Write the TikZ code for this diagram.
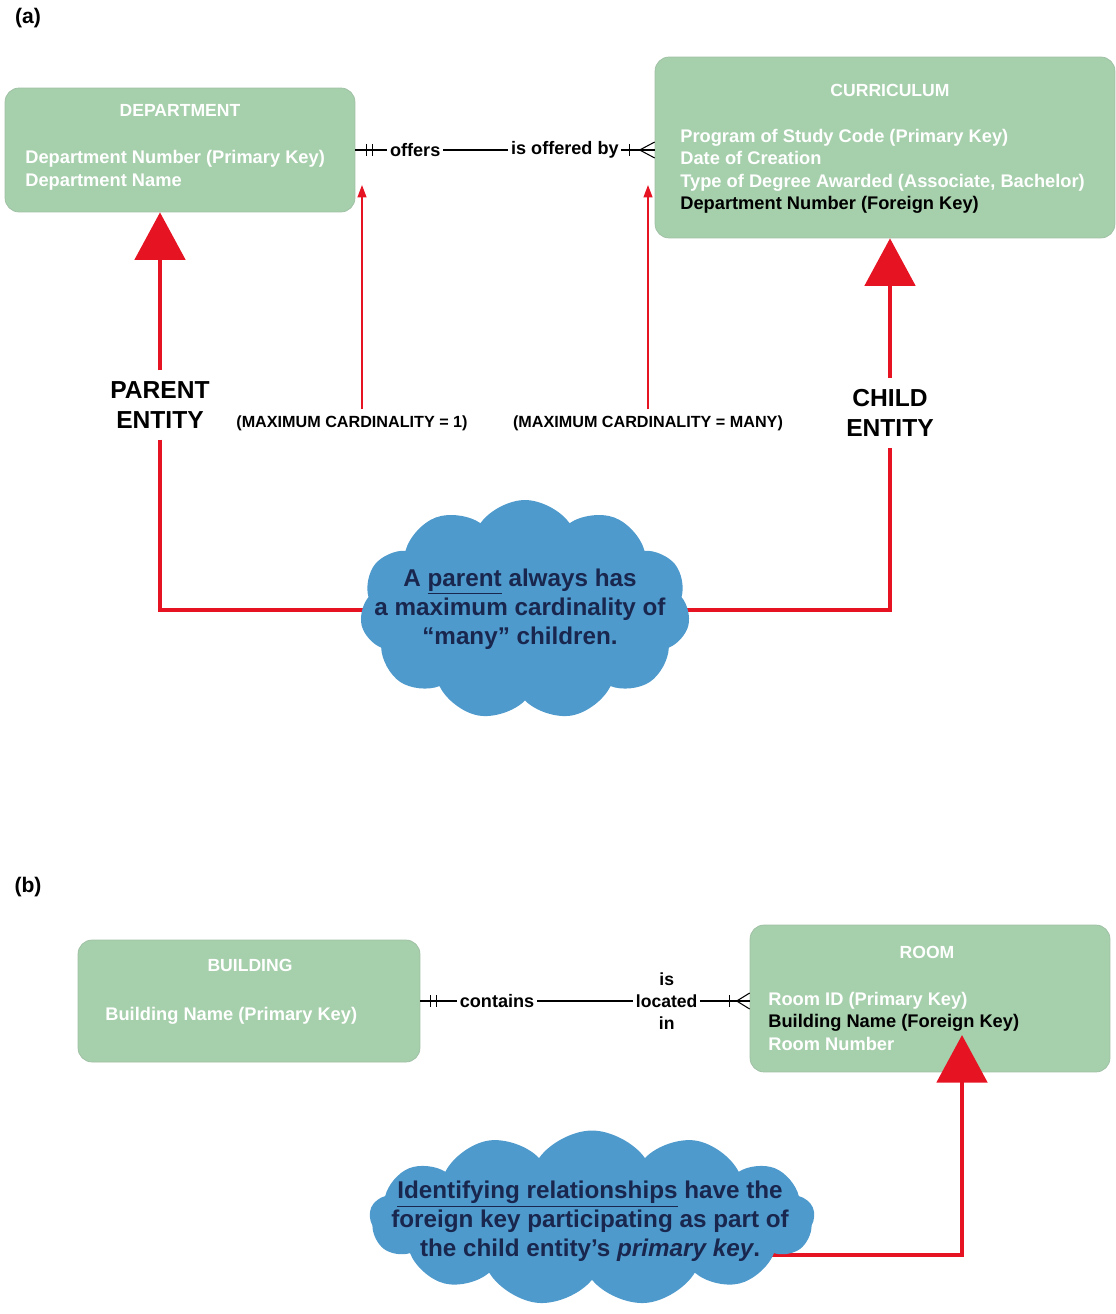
\documentclass[tikz,border=0pt]{standalone}
\usepackage{fontspec}
\setmainfont{Liberation Sans}
\usetikzlibrary{arrows.meta, shapes.symbols, backgrounds}
\definecolor{boxgreen}{RGB}{166,207,172}
\definecolor{erred}{RGB}{230,20,35}
\definecolor{cloudblue}{RGB}{78,154,204}
\definecolor{cloudtext}{RGB}{25,38,78}

\begin{document}
\begin{tikzpicture}[x=0.02cm, y=-0.02cm,
  entity/.style={draw=boxgreen!80!gray, fill=boxgreen, rounded corners=8pt, inner sep=0pt},
  title/.style={text=white, font=\bfseries\fontsize{10}{11}\selectfont},
  attrs/.style={text=white, align=left, anchor=north west, inner sep=0pt, font=\bfseries\fontsize{10.4}{12.8}\selectfont},
  relline/.style={line width=0.6pt},
  rel/.style={fill=white, inner sep=1.5pt, font=\bfseries\fontsize{10.3}{12.5}\selectfont},
  role/.style={align=center, inner sep=6pt, font=\bfseries\fontsize{14}{17.5}\selectfont},
  card/.style={font=\bfseries\fontsize{9.2}{10}\selectfont},
  note/.style={cloud, cloud puffs=11, cloud puff arc=110, cloud ignores aspect, fill=cloudblue, inner sep=0pt},
  notetext/.style={text=cloudtext, align=center, font=\bfseries\fontsize{13.8}{16.5}\selectfont},
  bigarrow/.style={erred, line width=2.8pt, -{Triangle[width=1cm, length=0.95cm]}},
  redline/.style={erred, line width=2.8pt},
  thinarrow/.style={erred, line width=0.9pt, -{Triangle[width=5pt, length=7pt]}}]
  \useasboundingbox (0,0) rectangle (1115,1314);

  % (a) parent and child
  \node[font=\bfseries\fontsize{12}{14}\selectfont] (lbla) at (28,18) {(a)};
  \node[entity, minimum width=7cm, minimum height=2.48cm] (dept) at (180,150) {};
  \node[title] (deptname) at (180,110) {DEPARTMENT};
  \node[attrs] (deptattr) at (25,150) {Department Number (Primary Key)\\Department Name};

  \node[entity, minimum width=9.2cm, minimum height=3.62cm] (curr) at (885,147.5) {};
  \node[title] (currname) at (890,90) {CURRICULUM};
  \node[attrs] (currattr) at (680,128.5) {Program of Study Code (Primary Key)\\Date of Creation\\Type of Degree Awarded (Associate, Bachelor)\\{\color{black}Department Number (Foreign Key)}};

  \coordinate (manyend) at (dept.east -| curr.west);
  \draw[relline] (dept.east) -- node[rel, pos=0.2] (offers) {offers} node[rel, pos=0.7] (offeredby) {is offered by} (manyend);
  \draw[relline] ([xshift=0.22cm]dept.east) ++(0,-6) -- ++(0,12);
  \draw[relline] ([xshift=0.34cm]dept.east) ++(0,-6) -- ++(0,12);
  \draw[relline] ([xshift=-0.5cm]manyend) ++(0,-6) -- ++(0,12);
  \draw[relline] ([yshift=0.16cm]manyend) -- ([xshift=-0.3cm]manyend) -- ([yshift=-0.16cm]manyend);

  \node[role] (parent) at (160,405) {PARENT\\ENTITY};
  \node[role] (child) at (890,413) {CHILD\\ENTITY};
  \draw[bigarrow] (parent.north) -- (parent.north |- dept.south);
  \draw[bigarrow] (child.north) -- (child.north |- curr.south);

  \node[card] (cardone) at (352,423) {(MAXIMUM CARDINALITY = 1)};
  \node[card] (cardmany) at (648,423) {(MAXIMUM CARDINALITY = MANY)};
  \coordinate (onetip) at (362,185);
  \coordinate (manytip) at (648,185);
  \draw[thinarrow] (cardone.north -| onetip) -- (onetip);
  \draw[thinarrow] (cardmany.north) -- (manytip);

  \node[note, minimum width=6.6cm, minimum height=4.4cm] (note1) at (525,610) {};
  \node[notetext] (note1text) at (520,609) {A \underline{parent} always has\\a maximum cardinality of\\``many'' children.};
  \begin{scope}[on background layer]
    \draw[redline] (parent.south) |- (note1.center);
    \draw[redline] (child.south) |- (note1.center);
  \end{scope}

  % (b) identifying relationship
  \node[font=\bfseries\fontsize{12}{14}\selectfont] (lblb) at (28,887) {(b)};
  \node[entity, minimum width=6.84cm, minimum height=2.44cm] (bldg) at (249,1001) {};
  \node[title] (bldgname) at (250,965) {BUILDING};
  \node[attrs] (bldgattr) at (105,1006.5) {Building Name (Primary Key)};

  \node[entity, minimum width=7.2cm, minimum height=2.94cm] (room) at (930,998.5) {};
  \node[title] (roomname) at (927,952) {ROOM};
  \node[attrs] (roomattr) at (768,991.5) {Room ID (Primary Key)\\{\color{black}Building Name (Foreign Key)}\\Room Number};

  \coordinate (roomend) at (bldg.east -| room.west);
  \draw[relline] (bldg.east) -- node[rel, pos=0.233] (contains) {contains} node[rel, pos=0.748, align=center, font=\bfseries\fontsize{10}{12.5}\selectfont] (located) {is\\located\\in} (roomend);
  \draw[relline] ([xshift=0.2cm]bldg.east) ++(0,-6) -- ++(0,12);
  \draw[relline] ([xshift=0.32cm]bldg.east) ++(0,-6) -- ++(0,12);
  \draw[relline] ([xshift=-0.4cm]roomend) ++(0,-6) -- ++(0,12);
  \draw[relline] ([yshift=0.16cm]roomend) -- ([xshift=-0.26cm]roomend) -- ([yshift=-0.16cm]roomend);

  \coordinate (note2c) at (592,1218);
  \coordinate (bend) at (962,1255);
  \coordinate (fktip) at (962,1035);
  \draw[bigarrow] (note2c |- bend) -- (bend) -- (fktip);
  \node[note, cloud puffs=13, minimum width=8.9cm, minimum height=3.5cm] (note2) at (note2c) {};
  \node[notetext, font=\bfseries\fontsize{13.8}{16.5}\selectfont] (note2text) at (590,1221) {\underline{Identifying relationships} have the\\foreign key participating as part of\\the child entity's \textit{primary key}.};
\end{tikzpicture}
\end{document}
